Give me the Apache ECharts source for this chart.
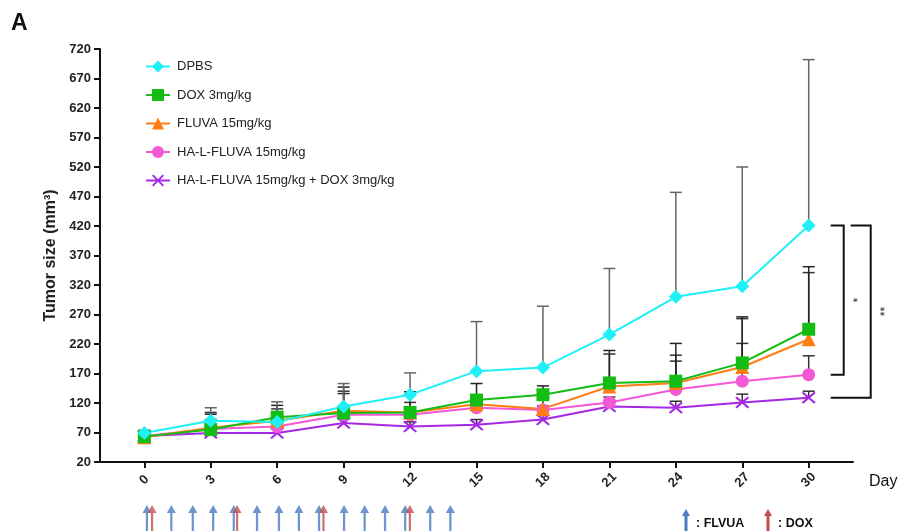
<!DOCTYPE html>
<html>
<head>
  <meta charset="utf-8">
  <title></title>
  <script src="https://cdn.jsdelivr.net/npm/echarts@6/dist/echarts.min.js"></script>
  <style>
    html, body { margin: 0; padding: 0; background: #fff; }
    #main { width: 901px; height: 531px; }
  </style>
</head>
<body>
  <div id="main"></div>
  <script type="text/javascript">
    // days of measurement
    var days = [0, 3, 6, 9, 12, 15, 18, 21, 24, 27, 30];
    var xTicks = [0, 3, 6, 9, 12, 15, 18, 21, 24, 27, 30];
    var yTicks = [20, 70, 120, 170, 220, 270, 320, 370, 420, 470, 520, 570, 620, 670, 720];

    // mean tumor size (mm3) and top of error bar
    var dpbs = [69, 90, 88, 114, 134, 174, 180, 236, 300, 318, 421];
    var dpbsUp = [74, 112, 122, 153, 171, 258, 284, 348, 477, 520, 702];
    var dox = [63, 75, 96, 103, 104, 125, 134, 154, 157, 188, 245];
    var doxUp = [67, 101, 116, 147, 139, 153, 149, 209, 221, 266, 351];
    var fluva = [62, 78, 90, 107, 104, 118, 110, 148, 154, 181, 228];
    var fluvaUp = [66, 104, 110, 140, 121, 130, 142, 203, 201, 263, 341];
    var halFluva = [64, 76, 80, 100, 100, 112, 108, 121, 143, 157, 168];
    var halFluvaUp = [67, 92, 92, 136, 110, 118, 115, 130, 191, 221, 200];
    var combo = [64, 69, 69, 86, 80, 83, 92, 114, 112, 121, 129];
    var comboUp = [67, 76, 78, 95, 88, 92, 100, 125, 123, 135, 140];

    // treatment days (arrows under the axis)
    var fluvaDays = [0.12, 1.22, 2.19, 3.11, 4.04, 5.09, 6.08, 6.98, 7.89, 9.02, 9.95, 10.87, 11.78, 12.91, 13.82];
    var doxDays = [0.35, 4.19, 8.09, 11.99];

    var names = ['DPBS', 'DOX 3mg/kg', 'FLUVA 15mg/kg', 'HA-L-FLUVA 15mg/kg', 'HA-L-FLUVA 15mg/kg + DOX 3mg/kg'];
    var colors = ['#1ef0f6', '#14bd14', '#ff7d12', '#f458d6', '#a528e4'];

    var xPath = 'path://M0,1.6 L1.6,0 L7,5.4 L12.4,0 L14,1.6 L8.6,7 L14,12.4 L12.4,14 L7,8.6 L1.6,14 L0,12.4 L5.4,7 Z';
    var arrowPath = 'path://M4,0 L8,8 L5,8 L5,26 L3,26 L3,8 L0,8 Z';
    var font = 'Arial, "Liberation Sans", sans-serif';

    function pairs(m) {
      return days.map(function (d, i) { return [d, m[i]]; });
    }
    function triples(m, u) {
      return days.map(function (d, i) { return [d, m[i], u[i]]; });
    }

    function errBar(name, mean, up, col) {
      return {
        name: name + ' err',
        type: 'custom',
        z: 1,
        silent: true,
        clip: false,
        data: triples(mean, up),
        renderItem: function (params, api) {
          var p0 = api.coord([api.value(0), api.value(1)]);
          var p1 = api.coord([api.value(0), api.value(2)]);
          return {
            type: 'group',
            children: [{
              type: 'line',
              shape: { x1: p0[0], y1: p0[1], x2: p1[0], y2: p1[1] },
              style: { stroke: col, lineWidth: 1.5 }
            }, {
              type: 'line',
              shape: { x1: p1[0] - 6, y1: p1[1], x2: p1[0] + 6, y2: p1[1] },
              style: { stroke: col, lineWidth: 1.5 }
            }]
          };
        }
      };
    }

    function lineSeries(i, values, symbol, size) {
      return {
        name: names[i],
        type: 'line',
        z: 3,
        data: pairs(values),
        symbol: symbol,
        symbolSize: size,
        showAllSymbol: true,
        lineStyle: { color: colors[i], width: 2 },
        itemStyle: { color: colors[i] }
      };
    }

    // significance brackets between groups at day 30
    var brackets = [
      [30, dpbs[10], halFluva[10]],
      [30, dpbs[10], combo[10]]
    ];
    var bracketLook = [
      { lt: 22, lb: 22, r: 35, t: 50, label: '*' },
      { lt: 42, lb: 22, r: 62, t: 77, label: '**' }
    ];

    var myChart = echarts.init(document.getElementById('main'));

    var option = {
      animation: false,
      backgroundColor: '#fff',
      textStyle: { fontFamily: font },
      grid: [
        { left: 100, right: 48, top: 49, bottom: 69 },
        { left: 100, right: 48, top: 504, height: 27 }
      ],
      legend: {
        data: names,
        orient: 'vertical',
        left: 140,
        top: 55,
        itemWidth: 24,
        itemHeight: 15,
        itemGap: 15.5,
        textStyle: { fontSize: 13, color: '#222', fontFamily: font, padding: [0, 0, 0, 2] }
      },
      xAxis: [{
        type: 'value',
        min: -2,
        max: 32,
        splitLine: { show: false },
        axisLine: { onZero: false, lineStyle: { color: '#111', width: 2 } },
        axisTick: { customValues: xTicks, length: 6, lineStyle: { color: '#111', width: 2 } },
        axisLabel: {
          customValues: xTicks,
          rotate: 45,
          align: 'center',
          verticalAlign: 'middle',
          margin: 18,
          fontSize: 13,
          fontWeight: 'bold',
          color: '#222',
          fontFamily: font
        }
      }, {
        type: 'value',
        gridIndex: 1,
        min: -2,
        max: 32,
        show: false
      }],
      yAxis: [{
        type: 'value',
        min: 20,
        max: 720,
        name: 'Tumor size (mm³)',
        nameLocation: 'middle',
        nameGap: 39,
        nameTextStyle: { fontSize: 16, fontWeight: 'bold', color: '#222', fontFamily: font },
        splitLine: { show: false },
        axisLine: { show: true, onZero: false, lineStyle: { color: '#111', width: 2 } },
        axisTick: { show: true, customValues: yTicks, length: 6, lineStyle: { color: '#111', width: 2 } },
        axisLabel: {
          customValues: yTicks,
          margin: 9,
          fontSize: 13,
          fontWeight: 'bold',
          color: '#222',
          fontFamily: font
        }
      }, {
        type: 'value',
        gridIndex: 1,
        min: 0,
        max: 1,
        show: false
      }],
      series: [
        errBar('combo', combo, comboUp, '#333'),
        errBar('hal', halFluva, halFluvaUp, '#333'),
        errBar('fluva', fluva, fluvaUp, '#333'),
        errBar('dox', dox, doxUp, '#222'),
        errBar('dpbs', dpbs, dpbsUp, '#666'),
        lineSeries(4, combo, xPath, [14, 12]),
        lineSeries(3, halFluva, 'circle', 13),
        lineSeries(2, fluva, 'triangle', 14),
        lineSeries(1, dox, 'rect', 13),
        lineSeries(0, dpbs, 'diamond', 14),
        {
          name: 'brackets',
          type: 'custom',
          clip: false,
          silent: true,
          data: brackets,
          renderItem: function (params, api) {
            var b = bracketLook[params.dataIndex];
            var top = api.coord([api.value(0), api.value(1)]);
            var bot = api.coord([api.value(0), api.value(2)]);
            var x = top[0];
            return {
              type: 'group',
              children: [{
                type: 'polyline',
                shape: { points: [[x + b.lt, top[1]], [x + b.r, top[1]], [x + b.r, bot[1]], [x + b.lb, bot[1]]] },
                style: { stroke: '#111', lineWidth: 2, fill: null }
              }, {
                type: 'text',
                x: x + b.t,
                y: (top[1] + bot[1]) / 2,
                rotation: Math.PI / 2,
                style: {
                  text: b.label,
                  fontSize: 12,
                  fontFamily: font,
                  fill: '#222',
                  align: 'center',
                  verticalAlign: 'middle'
                }
              }]
            };
          }
        },
        {
          name: 'FLVUA days',
          type: 'scatter',
          xAxisIndex: 1,
          yAxisIndex: 1,
          silent: true,
          data: fluvaDays.map(function (d) { return [d, 0]; }),
          symbol: arrowPath,
          symbolSize: [9, 26],
          symbolOffset: [0, '-50%'],
          itemStyle: { color: '#4a7cc0' }
        },
        {
          name: 'DOX days',
          type: 'scatter',
          xAxisIndex: 1,
          yAxisIndex: 1,
          silent: true,
          data: doxDays.map(function (d) { return [d, 0]; }),
          symbol: arrowPath,
          symbolSize: [9, 26],
          symbolOffset: [0, '-50%'],
          itemStyle: { color: '#c0504d' }
        }
      ],
      graphic: [
        { type: 'text', left: 11, top: 12, style: { text: 'A', fontSize: 23, fontWeight: 'bold', fill: '#111', fontFamily: font } },
        { type: 'text', left: 869, top: 474, style: { text: 'Day', fontSize: 16, fill: '#111', fontFamily: font } },
        { type: 'polygon', shape: { points: [[686, 509], [690, 516], [687.5, 516], [687.5, 531], [684.5, 531], [684.5, 516], [682, 516]] }, style: { fill: '#4a7cc0' } },
        { type: 'text', left: 696, top: 517, style: { text: ': FLVUA', fontSize: 12.5, fontWeight: 'bold', fill: '#111', fontFamily: font } },
        { type: 'polygon', shape: { points: [[768, 509], [772, 516], [769.5, 516], [769.5, 531], [766.5, 531], [766.5, 516], [764, 516]] }, style: { fill: '#c0504d' } },
        { type: 'text', left: 778, top: 517, style: { text: ': DOX', fontSize: 12.5, fontWeight: 'bold', fill: '#111', fontFamily: font } }
      ]
    };

    myChart.setOption(option);
  </script>
</body>
</html>
